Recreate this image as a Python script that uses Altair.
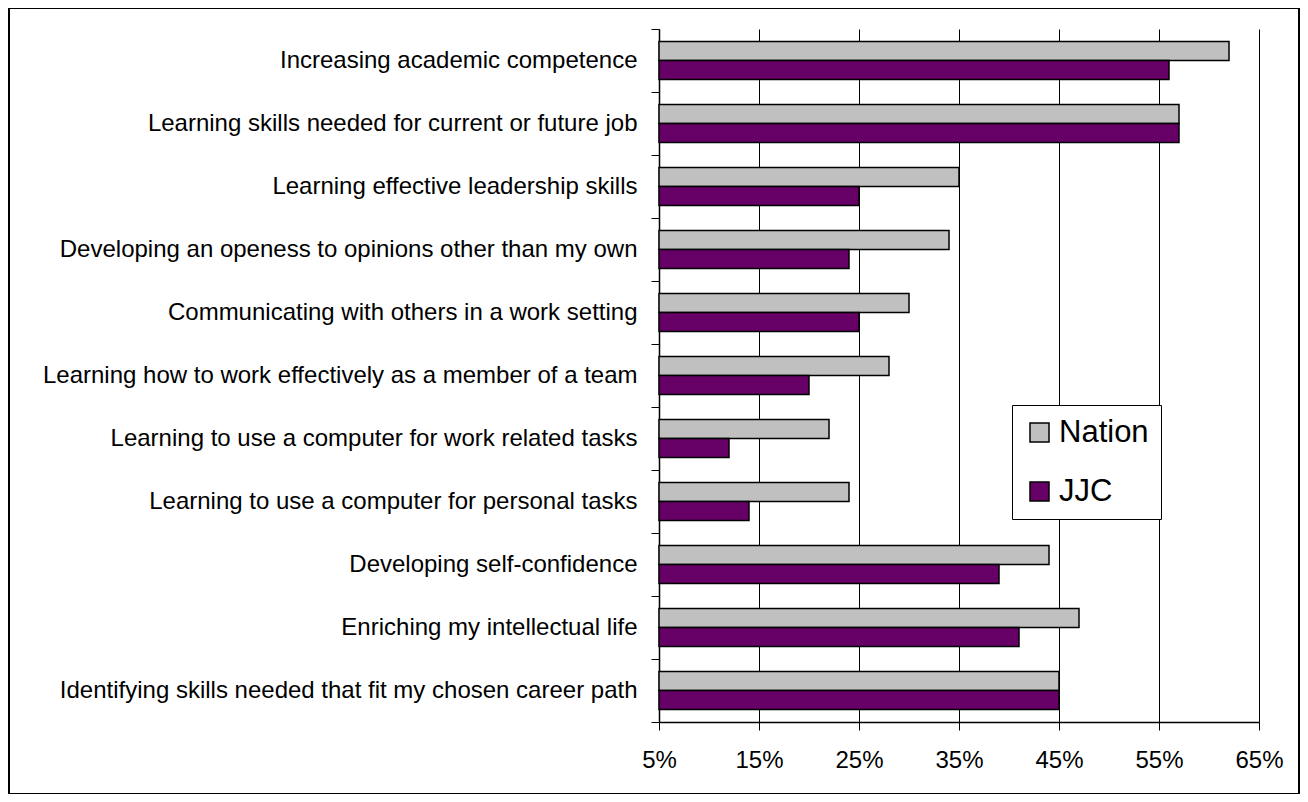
import altair as alt
import pandas as pd

categories = [
    "Increasing academic competence",
    "Learning skills needed for current or future job",
    "Learning effective leadership skills",
    "Developing an openess to opinions other than my own",
    "Communicating with others in a work setting",
    "Learning how to work effectively as a member of a team",
    "Learning to use a computer for work related tasks",
    "Learning to use a computer for personal tasks",
    "Developing self-confidence",
    "Enriching my intellectual life",
    "Identifying skills needed that fit my chosen career path",
]
nation = [62, 57, 35, 34, 30, 28, 22, 24, 44, 47, 45]
jjc = [56, 57, 25, 24, 25, 20, 12, 14, 39, 41, 45]
series = ["Nation", "JJC"]
colors = ["#C0C0C0", "#660066"]
x_ticks = [5, 15, 25, 35, 45, 55, 65]

rows = []
for c, n, j in zip(categories, nation, jjc):
    rows.append({"item": c, "series": "Nation", "value": n})
    rows.append({"item": c, "series": "JJC", "value": j})
df = pd.DataFrame(rows)

bars = alt.Chart(df).mark_bar(stroke="black", strokeWidth=1.5).encode(
    x=alt.X(
        "value:Q",
        scale=alt.Scale(domain=[5, 65], nice=False, zero=False),
        axis=alt.Axis(
            values=x_ticks,
            labelExpr="datum.value + '%'",
            title=None,
            grid=True,
            gridColor="black",
            gridWidth=1,
            gridOpacity=1,
            domainColor="black",
            domainWidth=1.5,
            tickColor="black",
            tickSize=8,
            labelFontSize=24,
            labelPadding=18,
            labelColor="black",
            labelFlush=False,
            labelOverlap=False,
        ),
    ),
    x2=alt.datum(5),
    y=alt.Y(
        "item:N",
        sort=categories,
        scale=alt.Scale(paddingInner=0, paddingOuter=0),
        axis=alt.Axis(
            title=None,
            tickBand="extent",
            tickSize=8,
            tickColor="black",
            domainColor="black",
            domainWidth=1.5,
            labelFontSize=24,
            labelPadding=14,
            labelColor="black",
            labelLimit=700,
        ),
    ),
    yOffset=alt.YOffset(
        "series:N",
        sort=series,
        scale=alt.Scale(domain=series, paddingInner=0, paddingOuter=0.667),
    ),
    color=alt.Color(
        "series:N",
        scale=alt.Scale(domain=series, range=colors),
        legend=alt.Legend(
            title=None,
            orient="none",
            legendX=353,
            legendY=376,
            symbolType="square",
            symbolSize=361,
            symbolStrokeColor="black",
            symbolStrokeWidth=1.5,
            symbolOpacity=1,
            labelFontSize=31,
            labelColor="black",
            labelOffset=4,
            rowPadding=27,
            padding=12,
            strokeColor="black",
            fillColor="white",
            cornerRadius=0,
        ),
    ),
)

frame = alt.Chart(pd.DataFrame({"a": [0]})).mark_rect(
    fill="transparent", stroke="black", strokeWidth=2
).encode(
    x=alt.value(-650), x2=alt.value(640), y=alt.value(-21), y2=alt.value(765)
)

chart = (
    alt.layer(frame, bars)
    .properties(
        width=600,
        height=693,
        autosize=alt.AutoSizeParams(type="none"),
        padding={"left": 651, "top": 21, "right": 41, "bottom": 72},
    )
    .configure(font="Liberation Sans")
    .configure_view(strokeWidth=0)
)

chart.save("out.html", embed_options={"renderer": "svg", "actions": False})
